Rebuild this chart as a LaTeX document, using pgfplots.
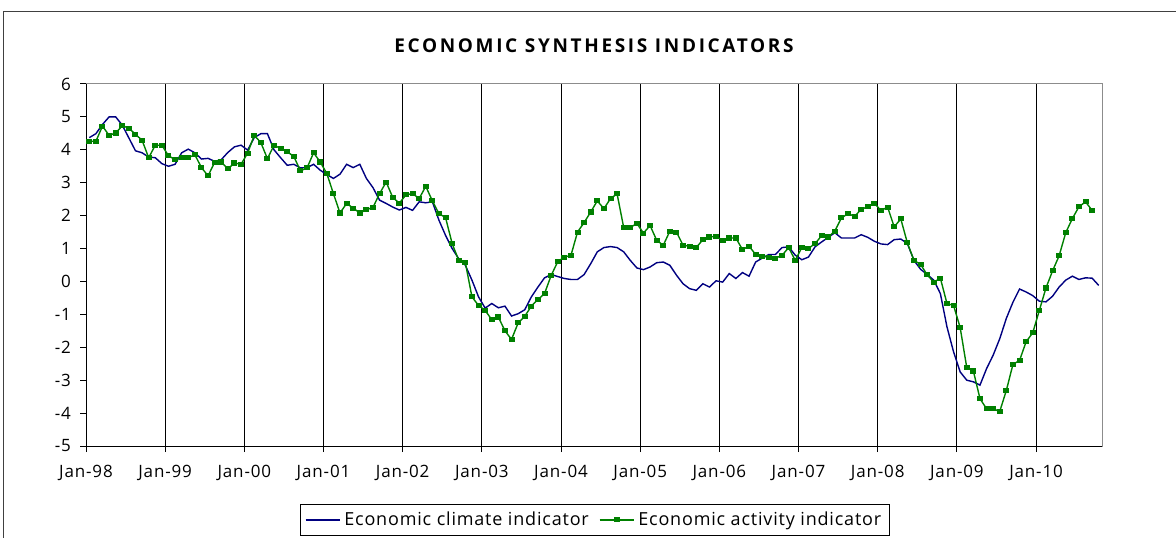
\documentclass[border=0pt]{standalone}
\usepackage{fontspec}
\setmainfont{Open Sans}
\usepackage{pgfplots}
\pgfplotsset{compat=1.18}
\usepackage{pgfplotstable}
\definecolor{climate}{RGB}{0,0,128}
\definecolor{activity}{RGB}{0,128,0}

\pgfplotstableread{
v
4.37
4.49
4.77
5.00
5.00
4.75
4.36
3.97
3.91
3.78
3.76
3.58
3.50
3.56
3.91
4.02
3.91
3.72
3.74
3.65
3.70
3.92
4.09
4.14
3.99
4.37
4.49
4.49
4.00
3.76
3.53
3.56
3.45
3.46
3.56
3.38
3.25
3.13
3.26
3.56
3.46
3.56
3.13
2.85
2.47
2.37
2.26
2.17
2.25
2.16
2.42
2.39
2.42
1.86
1.40
1.00
0.69
0.49
0.04
-0.47
-0.81
-0.67
-0.80
-0.75
-1.05
-0.98
-0.86
-0.47
-0.17
0.11
0.21
0.15
0.09
0.06
0.06
0.21
0.54
0.90
1.03
1.06
1.03
0.90
0.64
0.41
0.36
0.44
0.57
0.59
0.49
0.19
-0.07
-0.22
-0.27
-0.07
-0.17
0.02
-0.02
0.24
0.09
0.27
0.16
0.59
0.71
0.82
0.82
1.03
1.05
0.80
0.66
0.74
1.05
1.20
1.34
1.48
1.32
1.32
1.32
1.42
1.34
1.22
1.14
1.12
1.27
1.29
1.15
0.64
0.37
0.21
0.04
-0.37
-1.38
-2.14
-2.75
-3.00
-3.05
-3.15
-2.65
-2.24
-1.74
-1.12
-0.63
-0.23
-0.32
-0.43
-0.60
-0.62
-0.45
-0.17
0.04
0.16
0.06
0.11
0.10
-0.12
}\climatetab

\pgfplotstableread{
v
4.26
4.26
4.72
4.44
4.51
4.73
4.66
4.47
4.29
3.76
4.14
4.14
3.82
3.70
3.78
3.76
3.85
3.46
3.21
3.62
3.63
3.42
3.60
3.56
3.90
4.44
4.22
3.73
4.14
4.04
3.94
3.80
3.36
3.45
3.91
3.63
3.28
2.67
2.08
2.37
2.23
2.08
2.18
2.25
2.67
3.02
2.55
2.38
2.63
2.67
2.52
2.89
2.45
2.06
1.94
1.15
0.64
0.57
-0.47
-0.73
-0.88
-1.16
-1.08
-1.50
-1.76
-1.26
-1.06
-0.75
-0.55
-0.37
0.18
0.60
0.74
0.79
1.50
1.79
2.11
2.45
2.21
2.52
2.66
1.64
1.64
1.76
1.47
1.70
1.25
1.10
1.53
1.50
1.10
1.07
1.03
1.27
1.35
1.37
1.25
1.32
1.32
0.97
1.07
0.82
0.77
0.74
0.71
0.79
1.03
0.64
1.03
1.00
1.15
1.39
1.35
1.53
1.93
2.06
1.98
2.19
2.27
2.38
2.15
2.26
1.66
1.90
1.17
0.64
0.52
0.20
-0.02
0.10
-0.67
-0.73
-1.40
-2.62
-2.72
-3.56
-3.87
-3.87
-3.95
-3.31
-2.52
-2.40
-1.83
-1.56
-0.88
-0.20
0.32
0.78
1.48
1.91
2.27
2.42
2.16
}\activitytab

\begin{document}
\begin{tikzpicture}
\useasboundingbox (0,0) rectangle (588pt,268.5pt);
\draw[black!75, line width=0.5pt] (1.5pt,-2pt) -- (1.5pt,262.5pt) -- (590pt,262.5pt);
\begin{axis}[
  at={(43pt,45.5pt)}, anchor=south west,
  scale only axis, width=508pt, height=181pt,
  xmin=0, xmax=154, ymin=-5, ymax=6,
  xtick={0,12,...,144},
  xticklabels={Jan-98,Jan-99,Jan-00,Jan-01,Jan-02,Jan-03,Jan-04,Jan-05,Jan-06,Jan-07,Jan-08,Jan-09,Jan-10},
  ytick={-5,-4,...,6},
  tick align=outside, xtick pos=bottom, ytick pos=left,
  major tick length=3pt,
  xmajorgrids, grid style={black, line width=0.5pt},
  axis line style={black!45, line width=0.5pt},
  tick style={black, line width=0.5pt},
  ticklabel style={font=\fontsize{8.5}{10}\selectfont\addfontfeature{LetterSpace=5}},
  xticklabel style={yshift=-3pt},
  yticklabel style={xshift=-1pt},
  /pgf/number format/assume math mode=true,
  legend style={at={(0.501,-0.204)}, anchor=center, legend columns=2,
    draw=black, line width=0.5pt, font=\fontsize{9}{10.5}\selectfont\addfontfeature{LetterSpace=4.5},
    inner xsep=2pt, inner ysep=1.5pt,
    /tikz/every even column/.append style={column sep=3pt}},
  clip=false,
]
\addplot[climate, line width=0.7pt, no markers] table[x expr=\coordindex+0.5, y=v]{\climatetab};
\addlegendentry{Economic climate indicator}
\addplot[activity, line width=0.7pt, mark=square*, mark size=1.15pt, mark options={solid, yscale=0.8}] table[x expr=\coordindex+0.5, y=v]{\activitytab};
\addlegendentry{Economic activity indicator}
\draw[black, line width=0.5pt] (axis cs:0,6) -- (axis cs:0,-5) -- (axis cs:154,-5);
\node[font=\bfseries\fontsize{9.5}{11}\selectfont\addfontfeature{LetterSpace=14}] at (axis description cs:0.5,1.105) {ECONOMIC SYNTHESIS INDICATORS};
\end{axis}
\end{tikzpicture}
\end{document}
